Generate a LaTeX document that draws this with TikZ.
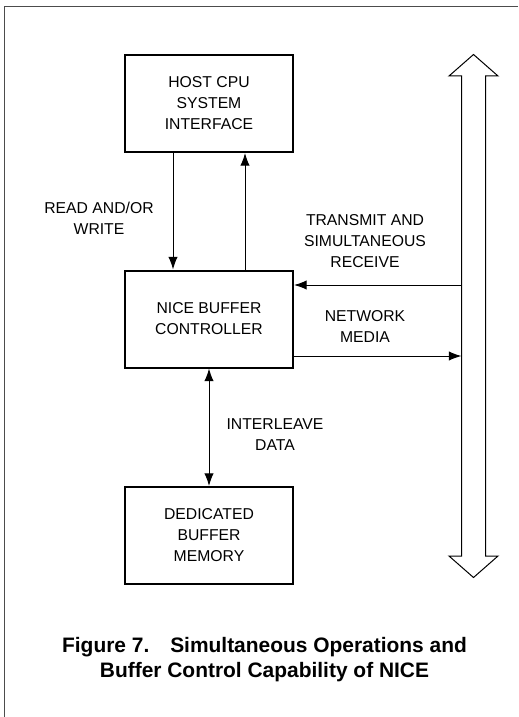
\documentclass[tikz,border=0pt]{standalone}
\usepackage{fontspec}
\setmainfont{Liberation Sans}
\usepackage{tikz}
\usetikzlibrary{calc,arrows.meta}

\begin{document}
\begin{tikzpicture}[x=0.75pt,y=-0.75pt,
    block/.style={draw,line width=1.5pt,minimum width=126pt,minimum height=72.75pt,align=center,
      font=\fontsize{11.8}{15.75}\selectfont},
    lbl/.style={align=center,font=\fontsize{11.8}{15.75}\selectfont},
    link/.style={line width=0.75pt,-{Latex[length=9.5pt,width=7pt]}},
    both/.style={{Latex[length=9.5pt,width=7pt]}-{Latex[length=9.5pt,width=7pt]}}]
                 \useasboundingbox (0,0) rectangle (518,717);
                 \draw[gray!60!black,line width=0.9pt] (518,6.5) -- (4.5,6.5) -- (4.5,717);
                 % blocks
                 \node[block](host)at(209,103.5){HOST CPU\\SYSTEM\\INTERFACE};
                 \node[block](nice)at(209,319){NICE BUFFER\\CONTROLLER};
                 \node[block](mem)at(209,535.5){DEDICATED\\BUFFER\\MEMORY};
                 % network bus
                 \draw[line width=0.75pt] (461.5,76) -- (449,76) -- (473.5,54.5) -- (498,76) -- (485.5,76)
                       -- (485.5,556) -- (498,556) -- (473.5,577.5) -- (449,556) -- (461.5,556) -- cycle;
                 \coordinate (rx) at (461.5,285);
                 \coordinate (tx) at (461.5,356);
                 % connectors
                 \draw[link]([xshift=-27pt]host.south)--([xshift=-27pt]nice.north);
                 \draw[link]([xshift=27pt]nice.north)--([xshift=27pt]host.south);
                 \draw[link](rx)--(rx-|nice.east);
                 \draw[link](nice.east|-tx)--(tx);
                 \draw[link,both](nice)--(mem);
                 % labels
                 \node[lbl](rw)at(99,218){READ AND/OR\\WRITE};
                 \node[lbl](trx)at(365,241){TRANSMIT AND\\SIMULTANEOUS\\RECEIVE};
                 \node[lbl](net)at(365,327){NETWORK\\MEDIA};
                 \node[lbl](il)at(275,434.5){INTERLEAVE\\DATA};
                 \node[align=center,font=\fontsize{15.7}{18.75}\selectfont\bfseries](cap)at(264.5,659.5)
                       {Figure 7.\hspace{1em}Simultaneous Operations and\\Buffer Control Capability of NICE};
               \end{tikzpicture}
\end{document}
